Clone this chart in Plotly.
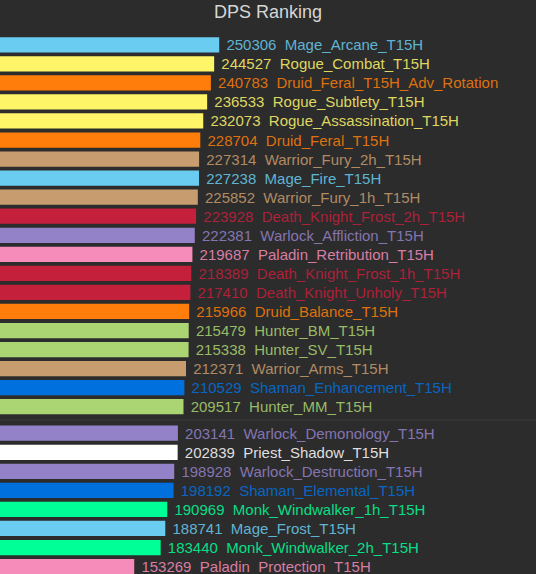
import plotly.graph_objects as go

# ranking data, top to bottom
names = [
    "Mage_Arcane_T15H", "Rogue_Combat_T15H", "Druid_Feral_T15H_Adv_Rotation",
    "Rogue_Subtlety_T15H", "Rogue_Assassination_T15H", "Druid_Feral_T15H",
    "Warrior_Fury_2h_T15H", "Mage_Fire_T15H", "Warrior_Fury_1h_T15H",
    "Death_Knight_Frost_2h_T15H", "Warlock_Affliction_T15H", "Paladin_Retribution_T15H",
    "Death_Knight_Frost_1h_T15H", "Death_Knight_Unholy_T15H", "Druid_Balance_T15H",
    "Hunter_BM_T15H", "Hunter_SV_T15H", "Warrior_Arms_T15H",
    "Shaman_Enhancement_T15H", "Hunter_MM_T15H",
    "Warlock_Demonology_T15H", "Priest_Shadow_T15H", "Warlock_Destruction_T15H",
    "Shaman_Elemental_T15H", "Monk_Windwalker_1h_T15H", "Mage_Frost_T15H",
    "Monk_Windwalker_2h_T15H", "Paladin_Protection_T15H",
]
dps = [
    250306, 244527, 240783, 236533, 232073, 228704, 227314, 227238, 225852,
    223928, 222381, 219687, 218389, 217410, 215966, 215479, 215338, 212371,
    210529, 209517,
    203141, 202839, 198928, 198192, 190969, 188741, 183440, 153269,
]
section_break = 20  # rows after this index sit below the divider

class_colors = {
    "Mage": "#69CCF0", "Rogue": "#FFF569", "Druid": "#FF7D0A", "Warrior": "#C79C6E",
    "Death": "#C41F3B", "Warlock": "#9482C9", "Paladin": "#F58CBA", "Hunter": "#ABD473",
    "Shaman": "#0070DE", "Priest": "#FFFFFF", "Monk": "#00FF96",
}

bg = "#2c2c2c"


def dim(hex_color, k=0.15):
    # mix a little of the background into the label colour
    c = [int(hex_color[i:i + 2], 16) for i in (1, 3, 5)]
    b = [int(bg[i:i + 2], 16) for i in (1, 3, 5)]
    return "#%02x%02x%02x" % tuple(round(x * (1 - k) + y * k) for x, y in zip(c, b))


gap = 0.39
ypos = [i + (gap if i >= section_break else 0) for i in range(len(names))]
colors = [class_colors[n.split("_")[0]] for n in names]
label_colors = [dim(c) for c in colors]
labels = [f"\u00a0{v}\u00a0 {n}" for v, n in zip(dps, names)]

fig = go.Figure()
fig.add_trace(go.Bar(
    x=dps, y=ypos, orientation="h", width=0.8,
    marker=dict(color=colors, line=dict(width=0)),
    text=labels, textposition="outside", cliponaxis=False, constraintext="none",
    outsidetextfont=dict(color=label_colors, size=15, family="Liberation Sans, Arial, sans-serif"),
    hoverinfo="skip",
))

mid = (ypos[section_break - 1] + ypos[section_break]) / 2
fig.add_shape(type="line", xref="paper", x0=0, x1=1, y0=mid, y1=mid,
              line=dict(color="#3d3d3d", width=1))

fig.update_layout(
    width=536, height=574,
    paper_bgcolor=bg, plot_bgcolor=bg,
    margin=dict(l=0, r=0, t=35, b=0),
    showlegend=False,
    title=dict(text="DPS Ranking", x=0.5, xanchor="center", y=1 - 12 / 574, yanchor="middle",
               font=dict(size=18, color="#d6d6d6", family="Liberation Sans, Arial, sans-serif")),
    xaxis=dict(range=[0, 612000], visible=False, showgrid=False, zeroline=False),
    yaxis=dict(range=[27.78, -0.514], visible=False, showgrid=False, zeroline=False),
    font=dict(family="Liberation Sans, Arial, sans-serif"),
)
fig.write_html("out.html", config={"displayModeBar": False},
               post_script="document.body.style.margin='0';")
